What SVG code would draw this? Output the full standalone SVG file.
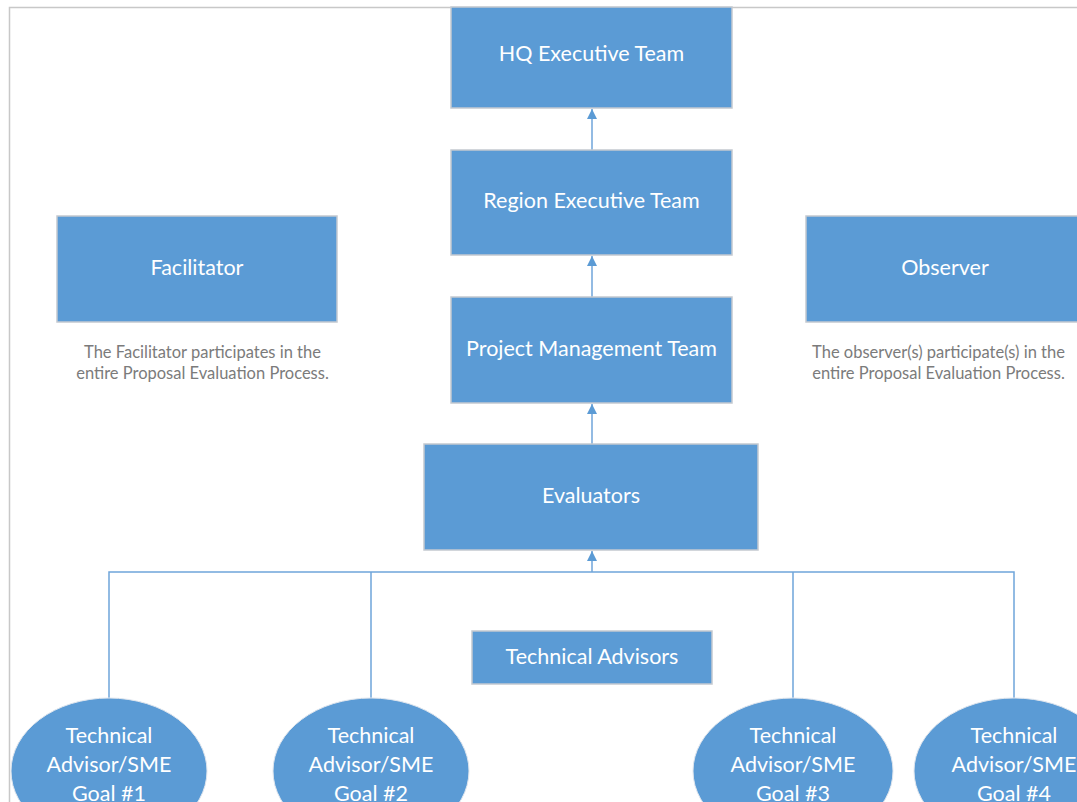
<svg xmlns="http://www.w3.org/2000/svg" width="1077" height="802" viewBox="0 0 1077 802">
<style>
.box{fill:#5b9bd5;stroke:#c3c9d0;stroke-width:1.5}
.ell{fill:#5b9bd5;stroke:#e0e6ee;stroke-width:1}
.lbl{font-family:Lato,"Open Sans",sans-serif;font-size:21.5px;fill:#ffffff;text-anchor:middle}
.note{font-family:Lato,"Open Sans",sans-serif;font-size:16.5px;fill:#7b7b7b;text-anchor:middle}
.con{fill:none;stroke:#6fa5da;stroke-width:1.5}
</style>
<defs>
<marker id="arr" viewBox="0 0 10 10" refX="10" refY="5" markerWidth="10" markerHeight="10" markerUnits="userSpaceOnUse" orient="auto">
<path d="M0,0 L10,5 L0,10 z" fill="#5b9bd5"/>
</marker>
</defs>
<rect x="0" y="0" width="1077" height="802" fill="#ffffff"/>
<path d="M9.5,802 V7.5 H1077" fill="none" stroke="#c8c8c8" stroke-width="1.5"/>
<g id="connectors">
<line class="con" x1="592" y1="150" x2="592" y2="109" marker-end="url(#arr)"/>
<line class="con" x1="592" y1="297" x2="592" y2="256" marker-end="url(#arr)"/>
<line class="con" x1="592" y1="444" x2="592" y2="404" marker-end="url(#arr)"/>
<line class="con" x1="592" y1="572" x2="592" y2="551" marker-end="url(#arr)"/>
<path class="con" d="M109,698 V572 H1014 V698 M371,698 V572 M793,698 V572"/>
</g>
<g id="hq"><rect class="box" x="451" y="7" width="281" height="101"/><text class="lbl" x="591.5" y="61">HQ Executive Team</text></g>
<g id="region"><rect class="box" x="451" y="150" width="281" height="105"/><text class="lbl" x="591.5" y="208">Region Executive Team</text></g>
<g id="pmt"><rect class="box" x="451" y="297" width="281" height="106"/><text class="lbl" x="591.5" y="356">Project Management Team</text></g>
<g id="evaluators"><rect class="box" x="424" y="444" width="334" height="106"/><text class="lbl" x="591" y="503">Evaluators</text></g>
<g id="facilitator"><rect class="box" x="57" y="216" width="280" height="106"/><text class="lbl" x="197" y="275">Facilitator</text>
<text class="note" x="202.5" y="358">The Facilitator participates in the</text>
<text class="note" x="202.5" y="379">entire Proposal Evaluation Process.</text></g>
<g id="observer"><rect class="box" x="806" y="216" width="290" height="106"/><text class="lbl" x="945" y="275">Observer</text>
<text class="note" x="938.5" y="358">The observer(s) participate(s) in the</text>
<text class="note" x="938.5" y="379">entire Proposal Evaluation Process.</text></g>
<g id="tech-advisors"><rect class="box" x="472" y="631" width="240" height="53"/><text class="lbl" x="592" y="664">Technical Advisors</text></g>
<g id="goal1"><ellipse class="ell" cx="109" cy="771" rx="98" ry="73"/>
<text class="lbl" x="109" y="743">Technical</text><text class="lbl" x="109" y="772">Advisor/SME</text><text class="lbl" x="109" y="801">Goal #1</text></g>
<g id="goal2"><ellipse class="ell" cx="371" cy="771" rx="98" ry="73"/>
<text class="lbl" x="371" y="743">Technical</text><text class="lbl" x="371" y="772">Advisor/SME</text><text class="lbl" x="371" y="801">Goal #2</text></g>
<g id="goal3"><ellipse class="ell" cx="793" cy="771" rx="100" ry="73"/>
<text class="lbl" x="793" y="743">Technical</text><text class="lbl" x="793" y="772">Advisor/SME</text><text class="lbl" x="793" y="801">Goal #3</text></g>
<g id="goal4"><ellipse class="ell" cx="1014" cy="771" rx="100" ry="73"/>
<text class="lbl" x="1014" y="743">Technical</text><text class="lbl" x="1014" y="772">Advisor/SME</text><text class="lbl" x="1014" y="801">Goal #4</text></g>
</svg>
